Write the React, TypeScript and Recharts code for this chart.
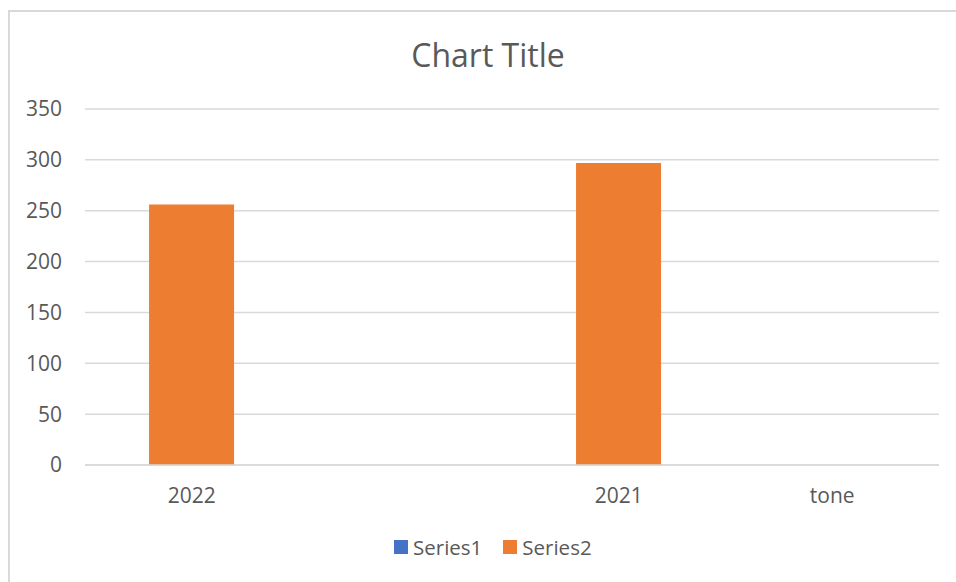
import { BarChart, Bar, XAxis, YAxis, CartesianGrid, Legend } from "recharts";

const categories = ["2022", "", "2021", "tone"];
const series1 = [null, null, null, null];
const series2 = [256, null, 297, null];
const yTicks = [0, 50, 100, 150, 200, 250, 300, 350];

const data = categories.map((name, i) => ({
  name,
  Series1: series1[i],
  Series2: series2[i],
}));

const FONT = "'Open Sans', sans-serif";
const TEXT = "#595959";
const GRID = "#d9d9d9";

const LegendBox = ({ payload }: any) => (
  <div style={{ display: "flex", alignItems: "center", height: 30, fontFamily: FONT, fontSize: 20.5, color: TEXT }}>
    {(payload || []).map((item: any, i: number) => (
      <div key={item.value} style={{ display: "flex", alignItems: "center", marginLeft: i ? 21 : 0 }}>
        <span style={{ width: 14, height: 14, background: item.color, marginRight: 5, display: "inline-block" }} />
        <span>{item.value}</span>
      </div>
    ))}
  </div>
);

export default function App() {
  return (
    <div
      style={{
        position: "fixed",
        left: 8,
        top: 10,
        width: 960,
        height: 580,
        borderLeft: `2px solid ${GRID}`,
        borderTop: `2px solid ${GRID}`,
        background: "#fff",
      }}
    >
      <div
        style={{
          position: "absolute",
          left: 478,
          top: 27,
          transform: "translateX(-50%)",
          fontFamily: FONT,
          fontSize: 32,
          lineHeight: "31px",
          color: TEXT,
          whiteSpace: "nowrap",
        }}
      >
        Chart Title
      </div>
      <BarChart
        width={938}
        height={562}
        data={data}
        margin={{ top: 97, right: 9, left: 0, bottom: 39 }}
        barCategoryGap="30%"
      >
        <CartesianGrid vertical={false} stroke={GRID} strokeWidth={1.5} />
        <XAxis
          dataKey="name"
          height={40}
          axisLine={{ stroke: GRID, strokeWidth: 1.5 }}
          tickLine={false}
          tickSize={0}
          tickMargin={23}
          tick={{ fill: TEXT, fontSize: 21, fontFamily: FONT }}
          interval={0}
        />
        <YAxis
          width={75}
          domain={[0, 350]}
          ticks={yTicks}
          axisLine={false}
          tickLine={false}
          tickSize={0}
          tickMargin={23}
          tick={{ fill: TEXT, fontSize: 21, fontFamily: FONT }}
        />
        <Legend
          content={<LegendBox />}
          wrapperStyle={{ left: 384, top: 520, bottom: "auto", width: "auto" }}
        />
        <Bar dataKey="Series1" stackId="a" fill="#4472C4" isAnimationActive={false} />
        <Bar dataKey="Series2" stackId="a" fill="#ED7D31" isAnimationActive={false} />
      </BarChart>
    </div>
  );
}
